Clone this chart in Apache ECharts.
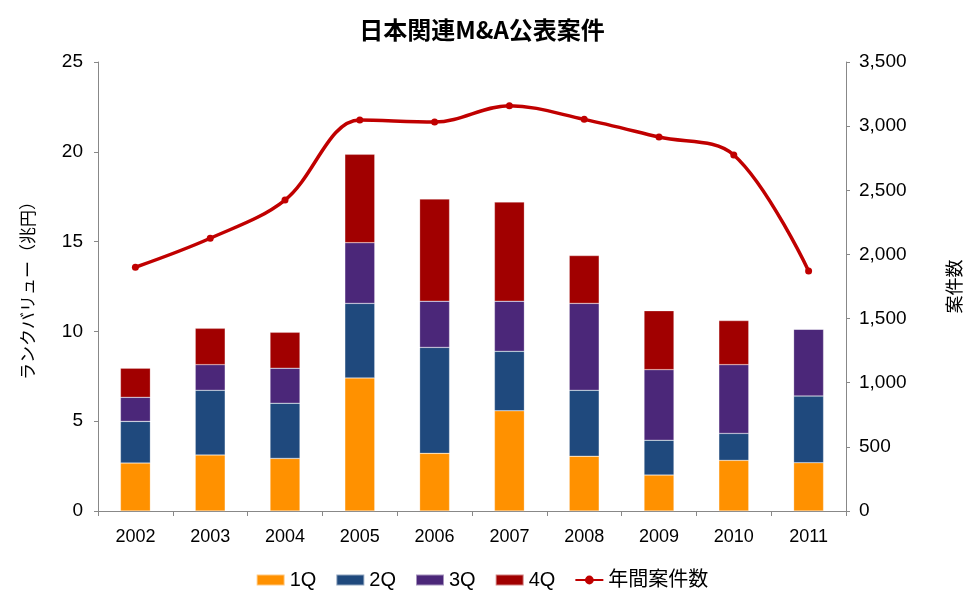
<!DOCTYPE html>
<html><head><meta charset="utf-8">
<script src="https://cdn.jsdelivr.net/npm/echarts@6/dist/echarts.min.js"></script>
<style>html,body{margin:0;padding:0;background:#fff}#c{width:964px;height:592px}</style>
</head><body><div id="c"></div>
<script>
const years = ['2002','2003','2004','2005','2006','2007','2008','2009','2010','2011'];
const q1 = [2.67, 3.12, 2.93, 7.41, 3.21, 5.58, 3.05, 2.00, 2.82, 2.69];
const q2 = [2.32, 3.60, 3.07, 4.15, 5.90, 3.31, 3.67, 1.94, 1.50, 3.71];
const q3 = [1.34, 1.43, 1.95, 3.38, 2.57, 2.79, 4.84, 3.93, 3.83, 3.72];
const q4 = [1.62, 2.02, 2.00, 4.92, 5.69, 5.52, 2.66, 3.28, 2.45, 0];
const deals = [1900, 2126, 2424, 3048, 3032, 3159, 3053, 2915, 2775, 1871];
const leftTicks = [0, 5, 10, 15, 20, 25];
const rightTicks = [0, 500, 1000, 1500, 2000, 2500, 3000, 3500];

const font = '"Liberation Sans", Arial, "Noto Sans CJK JP", sans-serif';
const cjk = '"Noto Sans CJK JP", sans-serif';
const chart = echarts.init(document.getElementById('c'));
const barBase = {type: 'bar', stack: 'v', barWidth: '40%', yAxisIndex: 0,
  itemStyle: {borderColor: 'rgba(255,255,255,0.5)', borderWidth: 0.5}};
chart.setOption({
  animation: false,
  textStyle: {fontFamily: font},
  title: {text: '日本関連M&A公表案件', left: 'center', top: 13,
    textStyle: {fontFamily: cjk, fontWeight: 'bold', fontSize: 24, color: '#000'}},
  grid: {left: 98, right: 118, top: 62, bottom: 81, containLabel: false, outerBoundsMode: 'none'},
  legend: {top: 565, left: 'center', itemWidth: 28, itemHeight: 11, itemGap: 19,
    textStyle: {fontFamily: font, fontSize: 20, color: '#000'},
    data: [{name: '1Q', icon: 'rect'}, {name: '2Q', icon: 'rect'}, {name: '3Q', icon: 'rect'}, {name: '4Q', icon: 'rect'}, {name: '年間案件数'}]},
  xAxis: {type: 'category', data: years,
    axisLine: {lineStyle: {color: '#888', width: 1}},
    axisTick: {show: true, length: 5, lineStyle: {color: '#888'}},
    axisLabel: {fontSize: 18, color: '#000', margin: 17, fontFamily: font}},
  yAxis: [
    {type: 'value', min: leftTicks[0], max: leftTicks[leftTicks.length - 1], interval: 5,
     name: 'ランクバリュー（兆円）', nameLocation: 'middle', nameRotate: 90, nameGap: 62,
     nameTextStyle: {fontSize: 17, color: '#000', fontFamily: cjk},
     axisLine: {show: true, lineStyle: {color: '#888'}},
     axisTick: {show: true, length: 4, lineStyle: {color: '#888'}},
     splitLine: {show: false},
     axisLabel: {fontSize: 19, color: '#000', margin: 15, fontFamily: font}},
    {type: 'value', min: rightTicks[0], max: rightTicks[rightTicks.length - 1], interval: 500,
     position: 'right',
     name: '案件数', nameLocation: 'middle', nameRotate: 90, nameGap: 99,
     nameTextStyle: {fontSize: 18, color: '#000', fontFamily: cjk},
     axisLine: {show: true, lineStyle: {color: '#888'}},
     axisTick: {show: true, length: 4, lineStyle: {color: '#888'}},
     splitLine: {show: false},
     axisLabel: {fontSize: 19, color: '#000', margin: 13, fontFamily: font,
       formatter: v => v.toLocaleString('en-US')}}
  ],
  series: [
    Object.assign({}, barBase, {name: '1Q', data: q1, color: '#FF9100'}),
    Object.assign({}, barBase, {name: '2Q', data: q2, color: '#1F497D'}),
    Object.assign({}, barBase, {name: '3Q', data: q3, color: '#4B2779'}),
    Object.assign({}, barBase, {name: '4Q', data: q4, color: '#A10000'}),
    {name: '年間案件数', type: 'line', yAxisIndex: 1, data: deals, smooth: 0.35,
     color: '#C00000', symbol: 'circle', symbolSize: 7,
     lineStyle: {width: 3.5, color: '#C00000'}, itemStyle: {color: '#C00000'}}
  ]
});
</script></body></html>
